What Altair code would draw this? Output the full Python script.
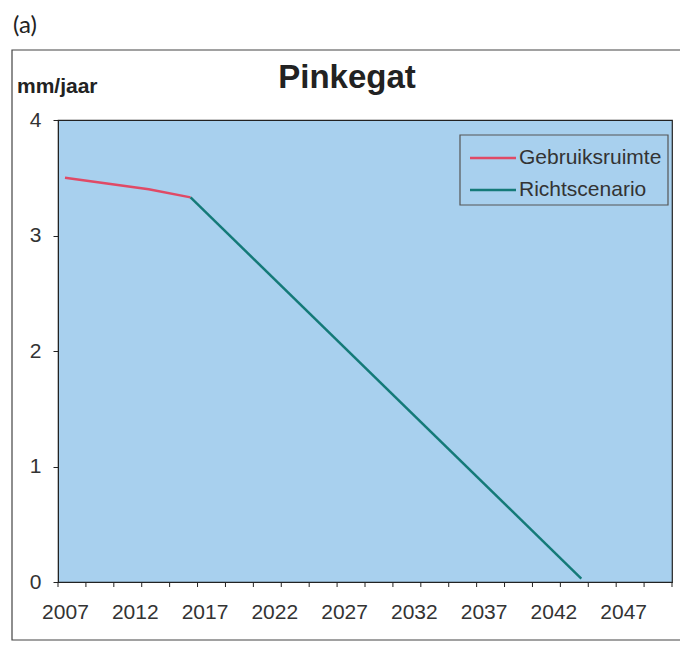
import altair as alt
import pandas as pd

# Data
years_gebruik = [2007, 2010, 2013, 2016]
vals_gebruik = [3.50, 3.45, 3.40, 3.33]
years_richt = [2016, 2044]
vals_richt = [3.33, 0.03]
series_names = ["Gebruiksruimte", "Richtscenario"]
series_colors = ["#E04A66", "#147A78"]
x_labels = [2007, 2012, 2017, 2022, 2027, 2032, 2037, 2042, 2047]
x_minor = [2006.5, 2008.5, 2010.5, 2012.5, 2014.5, 2016.5, 2018.5, 2020.5, 2022.5,
           2024.5, 2026.5, 2028.5, 2030.5, 2032.5, 2034.5, 2036.5, 2038.5, 2040.5,
           2042.5, 2044.5, 2046.5, 2048.5, 2050.5]
y_ticks = [0, 1, 2, 3, 4]

W, H = 614, 462
FONT = "Liberation Sans"
BG = "#A8D0EE"

df = pd.concat([
    pd.DataFrame({"jaar": years_gebruik, "waarde": vals_gebruik, "serie": series_names[0]}),
    pd.DataFrame({"jaar": years_richt, "waarde": vals_richt, "serie": series_names[1]}),
])

xscale = alt.Scale(domain=[2006.5, 2050.5], nice=False, zero=False)
yscale = alt.Scale(domain=[0, 4], nice=False)
cscale = alt.Scale(domain=series_names, range=series_colors)

lines = alt.Chart(df).mark_line(strokeWidth=2.5).encode(
    x=alt.X("jaar:Q", scale=xscale,
            axis=alt.Axis(values=x_labels, format="d", title=None, ticks=False,
                          labelPadding=19, labelFontSize=21, labelFont=FONT,
                          labelColor="#333333", domainColor="#222222", grid=False,
                          labelFlush=False)),
    y=alt.Y("waarde:Q", scale=yscale,
            axis=alt.Axis(values=y_ticks, title=None, tickSize=5, tickColor="#222222",
                          labelPadding=12, labelFontSize=21, labelFont=FONT,
                          labelColor="#333333", domainColor="#222222", grid=False)),
    color=alt.Color("serie:N", scale=cscale, legend=None),
    order="jaar:Q",
)

minor = alt.Chart(pd.DataFrame({"t": x_minor})).mark_rule(color="#222222").encode(
    x=alt.X("t:Q", scale=xscale),
    y=alt.value(H),
    y2=alt.value(H + 5),
)

# Legend (drawn as marks, colours from the shared colour scale)
leg_box = alt.Chart(pd.DataFrame({"a": [0]})).mark_rect(
    fill=BG, stroke="#555555", strokeWidth=1.2
).encode(x=alt.value(402), x2=alt.value(610), y=alt.value(15), y2=alt.value(85))

leg_df = pd.DataFrame({"serie": series_names})
leg_parts = []
for i, name in enumerate(series_names):
    yy = 38 + 32 * i
    base = alt.Chart(leg_df).transform_filter(alt.datum.serie == name)
    leg_parts.append(base.mark_rule(strokeWidth=2.5).encode(
        x=alt.value(412), x2=alt.value(458), y=alt.value(yy),
        color=alt.Color("serie:N", scale=cscale, legend=None)))
    leg_parts.append(base.mark_text(
        font=FONT, fontSize=21, color="#333333", align="left", baseline="middle"
    ).encode(text="serie:N", x=alt.value(461), y=alt.value(yy)))

frame = alt.Chart(pd.DataFrame({"a": [0]})).mark_rect(
    fill=None, stroke="#444444", strokeWidth=1.2
).encode(x=alt.value(-46), x2=alt.value(640), y=alt.value(-70), y2=alt.value(520))

title = alt.Chart(pd.DataFrame({"s": ["Pinkegat"]})).mark_text(
    font=FONT, fontSize=33, fontWeight="bold", color="#222222", align="center",
    baseline="alphabetic"
).encode(text="s:N", x=alt.value(289), y=alt.value(-32))

unit = alt.Chart(pd.DataFrame({"s": ["mm/jaar"]})).mark_text(
    font=FONT, fontSize=21, fontWeight="bold", color="#222222", align="left",
    baseline="alphabetic"
).encode(text="s:N", x=alt.value(-41), y=alt.value(-27))

label_a = alt.Chart(pd.DataFrame({"s": ["(a)"]})).mark_text(
    font="Lato", fontSize=24, color="#222222", align="left", baseline="alphabetic"
).encode(text="s:N", x=alt.value(-45), y=alt.value(-87))

chart = alt.layer(frame, lines, minor, leg_box, *leg_parts, title, unit, label_a).properties(
    width=W, height=H,
    autosize=alt.AutoSizeParams(type="none"),
    padding={"left": 50, "top": 112, "right": 8, "bottom": 68},
    background="white",
).configure_view(fill=BG, stroke="#222222", strokeWidth=1.2)

chart.save("out.html", embed_options={"renderer": "svg", "actions": False})
